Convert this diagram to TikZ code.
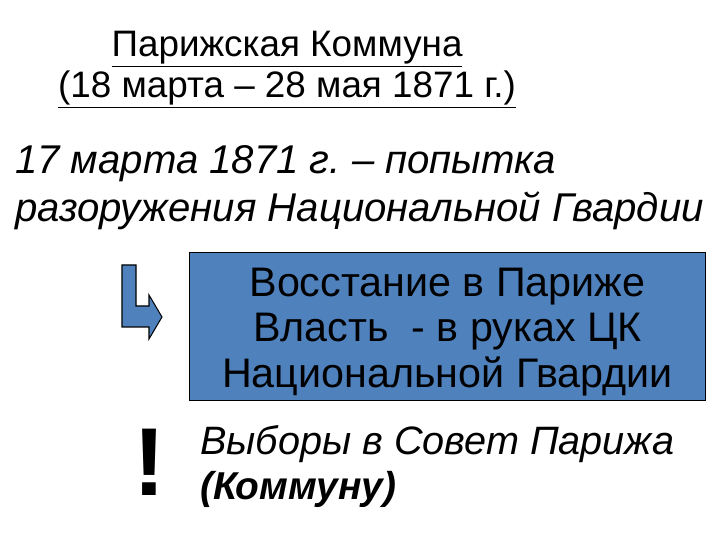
\documentclass[tikz,border=0pt]{standalone}
\usepackage{fontspec}
\setmainfont{Liberation Sans}
\definecolor{boxblue}{RGB}{79,129,189}
\tikzset{
	line/.style={anchor=base west,inner sep=0pt},
	titleline/.style={anchor=base,inner sep=0pt,font=\fontsize{29}{34}\selectfont},
	bigline/.style={line,font=\fontsize{31.6}{38}\selectfont\itshape}
}
\frenchspacing
\begin{document}
\begin{tikzpicture}[x=0.7875pt,y=-0.7875pt]
		\useasboundingbox (0,0) rectangle (720,540);
		% heading
		\node[titleline] (title1) at (287,57) {\underline{Парижская Коммуна}};
		\node[titleline] (title2) at (287,98) {\underline{(18 марта – 28 мая 1871 г.)}};
		% event
		\node[bigline] (event1) at (15,174) {17 марта 1871 г. – попытка};
		\node[bigline] (event2) at (15,222) {разоружения Национальной Гвардии};
		% result
		\node[draw=black,fill=boxblue,line width=0.8pt,minimum width=407.1pt,minimum height=115.8pt,
			inner sep=0pt] (rising) at (447.5,326.5) {};
		\begin{scope}[every node/.style={anchor=base,inner sep=0pt,font=\fontsize{32.5}{38}\selectfont}]
			\node (rising1) at (rising.center |- 0,297) {Восстание в Париже};
			\node (rising2) at (rising.center |- 0,342) {Власть \ - в руках ЦК};
			\node (rising3) at (rising.center |- 0,388) {Национальной Гвардии};
		\end{scope}
		\draw[fill=boxblue,line width=0.8pt,line join=miter]
			(122,265) -- (136,265) -- (136,306) -- (149,306) -- (149,295) -- (162,317)
			-- (149,339) -- (149,327) -- (122,327) -- cycle;
		% elections
		\node[anchor=base,inner sep=0pt,font=\fontsize{76}{76}\selectfont\bfseries] (mark) at (150,496) {!};
		\node[bigline,font=\fontsize{31.2}{38}\selectfont\itshape] (vote1) at (200,455) {Выборы в Совет Парижа};
		\node[bigline,font=\fontsize{30.6}{38}\selectfont\bfseries\itshape] (vote2) at (200,500) {(Коммуну)};
\end{tikzpicture}
\end{document}
